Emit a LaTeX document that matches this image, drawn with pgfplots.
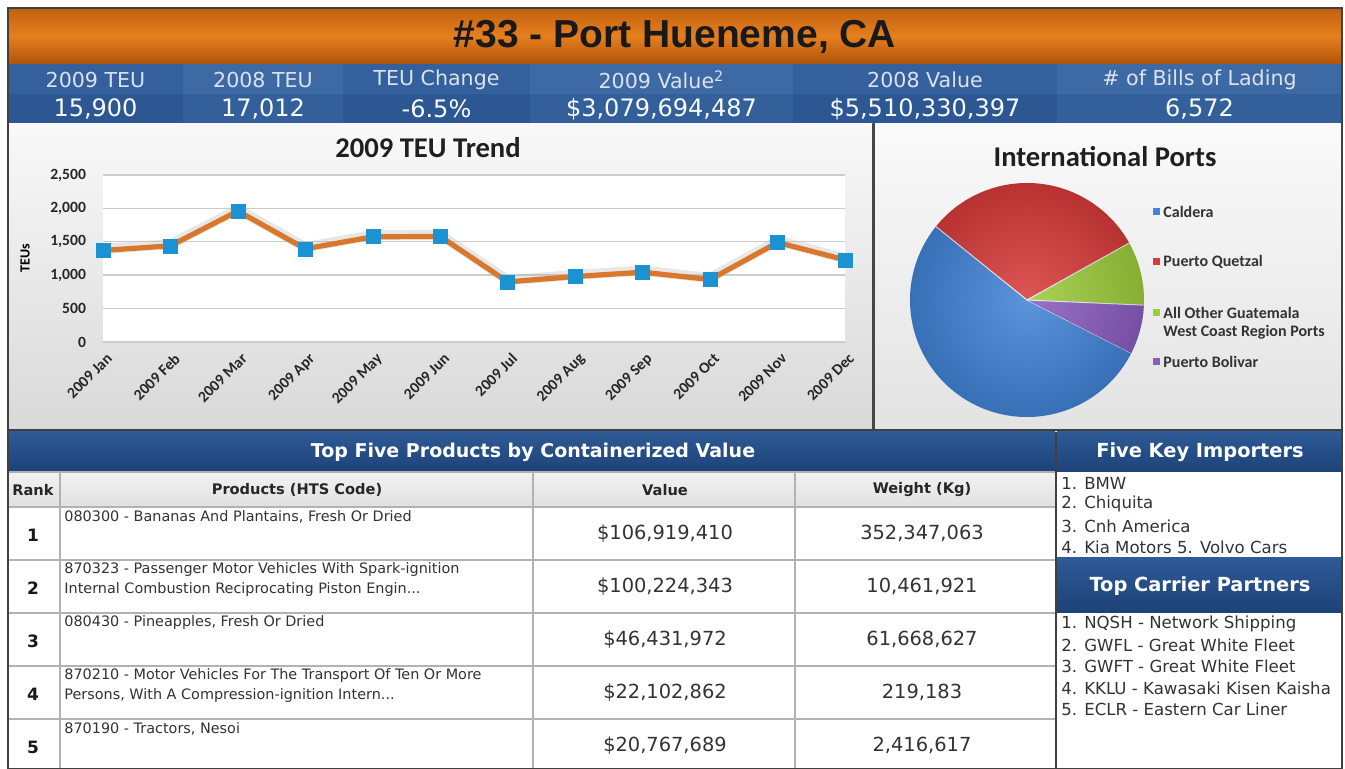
\documentclass[border=0pt]{standalone}
\usepackage{pgfplots}
\usepackage{pgfplotstable}
\pgfplotsset{compat=1.18}
\usepackage{fontspec}
\setmainfont{DejaVu Sans}
\newfontfamily\carlito{Carlito}
\newfontfamily\libsans{Liberation Sans}
\definecolor{orangeA}{HTML}{E5801F}
\definecolor{orangeT}{HTML}{C2600E}
\definecolor{orangeB}{HTML}{B0540A}
\definecolor{colOdT}{HTML}{34619D}
\definecolor{colOdB}{HTML}{2C5792}
\definecolor{colEvT}{HTML}{3D6AA5}
\definecolor{colEvB}{HTML}{33609B}
\definecolor{hdrblue}{HTML}{2E5A96}
\definecolor{hdrblueD}{HTML}{1D4277}
\definecolor{lineorange}{HTML}{D9782D}
\definecolor{markblue}{HTML}{1C92D2}
\definecolor{pieblue}{HTML}{4283D6}
\definecolor{piered}{HTML}{D73B3B}
\definecolor{piegreen}{HTML}{9CCC3C}
\definecolor{piepurple}{HTML}{8A5CC0}
\definecolor{txt}{HTML}{333333}
\definecolor{lbl}{HTML}{DCE2EC}

\pgfplotstableread{
m teu
0 1370
1 1440
2 1960
3 1395
4 1575
5 1580
6 900
7 980
8 1045
9 935
10 1490
11 1230
}\teudata

\begin{document}
\begin{tikzpicture}
\begin{scope}[x=0.5pt,y=-0.5pt]
\path[use as bounding box] (0,0) rectangle (1345,769);
\fill[white] (0,0) rectangle (1345,769);
% ---------- title bar
\shade[top color=orangeT, bottom color=orangeB, middle color=orangeA] (8,8) rectangle (1342,64);
\node[font=\libsans\bfseries\fontsize{19.5}{22}\selectfont, text=black!90] at (675,37) {\#33 - Port Hueneme, CA};
% ---------- stat bar
\foreach \a/\b/\t/\bb in {8/183/colOdT/colOdB, 183/343/colEvT/colEvB, 343/530/colOdT/colOdB, 530/793/colEvT/colEvB, 793/1057/colOdT/colOdB, 1057/1342/colEvT/colEvB}{
  \fill[\t] (\a,64) rectangle (\b,94);
  \fill[\bb] (\a,94) rectangle (\b,124);
}
\foreach \x/\l/\v in {95.5/{2009 TEU}/{15,900}, 263/{2008 TEU}/{17,012}, 436.5/{TEU Change}/{-6.5\%}, 925/{2008 Value}/{\$5,510,330,397}, 1199.5/{\# of Bills of Lading}/{6,572}}{
  \node[font=\fontsize{10.3}{12}\selectfont, text=lbl] at (\x,80) {\l};
  \node[font=\fontsize{12}{14}\selectfont, text=white!95!gray] at (\x,109) {\v};
}
\node[font=\fontsize{10.3}{12}\selectfont, text=lbl] at (661.5,80) {2009 Value\textsuperscript{2}};
\node[font=\fontsize{12}{14}\selectfont, text=white!95!gray] at (661.5,109) {\$3,079,694,487};
% ---------- middle panels
\shade[top color=gray!5, bottom color=gray!30] (8,124) rectangle (872,430);
\fill[gray!55!black] (872,124) rectangle (875,430);
\shade[top color=gray!4, bottom color=gray!22] (875,124) rectangle (1342,430);
\draw[gray!50!black, line width=1pt] (8,430) -- (1342,430);
\node[font=\carlito\bfseries\fontsize{14.3}{16}\selectfont, text=black!88] at (428,148) {2009 TEU Trend};
\node[font=\carlito\bfseries\fontsize{14.3}{16}\selectfont, text=black!88] at (1105,157) {International Ports};
% pie legend
\foreach \y/\c/\t in {212/pieblue/{Caldera}, 262/piered/{Puerto Quetzal}, 313/piegreen/{All Other Guatemala}, 362/piepurple/{Puerto Bolivar}}{
  \fill[\c] (1153,\y-3.5) rectangle (1160,\y+3.5);
  \node[anchor=west, font=\carlito\bfseries\fontsize{8}{9}\selectfont, text=txt, inner sep=0pt] at (1163,\y) {\t};
}
\node[anchor=west, font=\carlito\bfseries\fontsize{8}{9}\selectfont, text=txt, inner sep=0pt] at (1163,332) {West Coast Region Ports};
% ---------- bottom: products table
\shade[top color=hdrblue, bottom color=hdrblueD] (8,432) rectangle (1055,472);
\node[font=\bfseries\fontsize{9.5}{11}\selectfont, text=white] at (533,452) {Top Five Products by Containerized Value};
\shade[top color=gray!10, bottom color=gray!24] (8,472) rectangle (1055,507);
\fill[white] (8,507) rectangle (1055,769);
\foreach \y in {472,507,560,613,666,719}{ \draw[gray!60, line width=0.8pt] (8,\y) -- (1055,\y); }
\foreach \x in {60,533,795}{ \draw[gray!60, line width=0.8pt] (\x,472) -- (\x,769); }
\draw[gray!50!black, line width=1pt] (8,432) -- (8,769);
\draw[gray!50!black, line width=1.2pt] (1056,432) -- (1056,769);
\foreach \x/\t in {33/{Rank}, 297/{Products (HTS Code)}, 665/{Value}, 922/{Weight (Kg)}}{
  \node[font=\bfseries\fontsize{7.3}{9}\selectfont, text=black!85] at (\x,490) {\t};
}
\foreach \y/\r/\v/\w in {533.5/1/{\$106,919,410}/{352,347,063}, 586.5/2/{\$100,224,343}/{10,461,921}, 639.5/3/{\$46,431,972}/{61,668,627}, 692.5/4/{\$22,102,862}/{219,183}, 745.5/5/{\$20,767,689}/{2,416,617}}{
  \node[font=\bfseries\fontsize{8.5}{10}\selectfont, text=black!90] at (33,\y+2) {\r};
  \node[font=\fontsize{9.7}{11}\selectfont, text=txt] at (665,\y) {\v};
  \node[font=\fontsize{9.7}{11}\selectfont, text=txt] at (922,\y) {\w};
}
\foreach \y/\t in {517/{080300 - Bananas And Plantains, Fresh Or Dried},
                   570/{870323 - Passenger Motor Vehicles With Spark-ignition},
                   590/{Internal Combustion Reciprocating Piston Engin...},
                   623/{080430 - Pineapples, Fresh Or Dried},
                   676/{870210 - Motor Vehicles For The Transport Of Ten Or More},
                   696/{Persons, With A Compression-ignition Intern...},
                   729/{870190 - Tractors, Nesoi}}{
  \node[anchor=west, inner sep=0pt, font=\fontsize{7.2}{9}\selectfont, text=txt] at (64,\y) {\t};
}
% ---------- right panel
\shade[top color=hdrblue, bottom color=hdrblueD] (1057,432) rectangle (1342,472);
\node[font=\bfseries\fontsize{9.7}{11}\selectfont, text=white] at (1200,452) {Five Key Importers};
\shade[top color=hdrblue, bottom color=hdrblueD] (1057,558) rectangle (1342,613);
\node[font=\bfseries\fontsize{9.7}{11}\selectfont, text=white] at (1200,586) {Top Carrier Partners};
\foreach \y/\t in {483/{1. BMW}, 504/{2. Chiquita}, 526/{3. Cnh America}, 547/{4. Kia Motors 5. Volvo Cars},
                   624/{1. NQSH - Network Shipping}, 645/{2. GWFL - Great White Fleet}, 666/{3. GWFT - Great White Fleet},
                   688/{4. KKLU - Kawasaki Kisen Kaisha}, 709/{5. ECLR - Eastern Car Liner}}{
  \node[anchor=west, inner sep=0pt, font=\fontsize{8.3}{10}\selectfont, text=txt] at (1061,\y) {\t};
}
\draw[gray!50!black, line width=1pt] (8,8) rectangle (1342,769);
\end{scope}
% ---------- pie chart
\begin{scope}[shift={(513.5pt,-150pt)}]
\def\startang{333}
\foreach \v/\c in {53.3/pieblue, 31.1/piered, 8.8/piegreen, 6.8/piepurple}{
  \pgfmathsetmacro\endang{\startang-3.6*\v}
  \fill[\c] (0,0) -- (\startang:58.5pt) arc[start angle=\startang, end angle=\endang, radius=58.5pt] -- cycle;
  \draw[white!85!gray, line width=0.5pt] (0,0) -- (\startang:58.5pt);
  \global\let\startang\endang
}
\shade[inner color=white, outer color=black, opacity=0.14] (0,0) circle (58.5pt);
\end{scope}
% ---------- line chart
\begin{axis}[
  at={(51.5pt,-171pt)}, anchor=south west,
  scale only axis, width=371pt, height=83.5pt,
  xmin=0, xmax=11, ymin=0, ymax=2500,
  xtick={0,...,11},
  xticklabels={2009 Jan,2009 Feb,2009 Mar,2009 Apr,2009 May,2009 Jun,2009 Jul,2009 Aug,2009 Sep,2009 Oct,2009 Nov,2009 Dec},
  ytick={0,500,1000,1500,2000,2500},
  ymajorgrids, grid style={draw=gray!40, line width=0.7pt},
  axis line style={draw=none},
  major tick length=0pt,
  axis background/.style={fill=white},
  /pgf/number format/assume math mode=true,
  /pgf/number format/1000 sep={,},
  tick label style={font=\carlito\bfseries\fontsize{7.8}{9}\selectfont, text=black!85},
  x tick label style={rotate=45, anchor=north east, inner sep=0.5pt, yshift=-4pt, xshift=-2pt},
  y tick label style={xshift=-5pt},
  ylabel={TEUs},
  ylabel style={font=\carlito\bfseries\fontsize{7}{8}\selectfont, at={(axis description cs:-0.105,0.5)}, anchor=center},
  clip=false,
]
\addplot[gray!60, opacity=0.3, line width=5pt, shift={(0,0.8pt)}] table[x=m,y=teu] {\teudata};
\addplot[lineorange, line width=2.6pt, mark=square*, mark size=3.5pt,
  mark options={fill=markblue, draw=markblue, line width=0.3pt, rounded corners=1pt}] table[x=m,y=teu] {\teudata};
\end{axis}
\end{tikzpicture}
\end{document}
